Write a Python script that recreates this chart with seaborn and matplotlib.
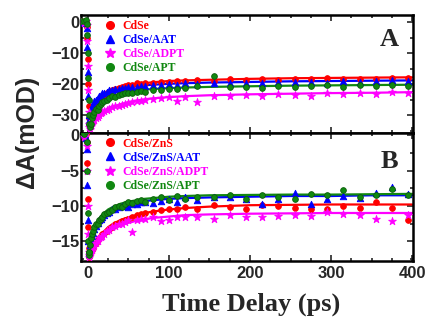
import numpy as np
import pandas as pd
import matplotlib
matplotlib.use("Agg")
import matplotlib.pyplot as plt
from matplotlib.ticker import MultipleLocator
import seaborn as sns

# ---------------- data ----------------
t_data = [-8, -5, -2, -1, -0.5, 0, 0.5, 1, 1.5, 2, 3, 4, 5, 6, 8, 10, 12, 14, 16, 18,
          20, 23, 26, 30, 34, 38, 42, 46, 50, 55, 60, 65, 70, 80, 90, 100, 110, 120,
          135, 155, 175, 195, 215, 235, 255, 275, 295, 315, 335, 355, 375, 395]

# Panel A
cdse = [0.3, -0.2, 0.2, -1.5, -5, -12, -20, -27, -31, -33, -32.5, -31, -30, -29.2, -28.5, -27, -26, -25, -24.5, -24,
        -23.5, -22.8, -22.5, -22, -21.5, -21.2, -20.8, -20.5, -20.3, -20.2, -19.8, -19.9, -19.5, -19.6, -19.2, -19.3, -18.9, -19.0,
        -18.8, -18.9, -18.5, -18.8, -18.4, -18.6, -18.2, -18.5, -18.1, -18.4, -18.2, -18.3, -18.1, -17.9]
cdse_aat = [0.2, 0.1, -0.3, -2, -8, -16, -24, -30, -32, -31.5, -30, -28.5, -27.5, -26.5, -25.5, -25, -24.5, -23.8, -23.5, -23,
            -22.8, -22.5, -22, -21.8, -21.5, -21.6, -21.2, -21.3, -21, -20.8, -20.9, -20.5, -20.6, -20.3, -20.4, -20.0, -20.2, -19.8,
            -20.0, -19.6, -19.8, -19.5, -19.7, -19.3, -19.4, -19.2, -19.5, -18.9, -19.2, -19.0, -18.7, -18.9]
cdse_adpt = [0.2, -0.3, 0.4, -1, -6, -14, -22, -29, -33, -34, -34.5, -33.5, -32.5, -32, -31.5, -31, -30.5, -30, -29.5, -29,
             -28.8, -28.3, -28, -27.5, -27.2, -27, -26.6, -26.4, -26, -25.8, -25.5, -25.3, -25, -24.8, -24.5, -24.3, -25.5, -24.2,
             -25.8, -24.0, -23.8, -23.5, -23.8, -23.2, -23.5, -23.8, -23.0, -23.3, -22.8, -23.2, -22.6, -22.9]
cdse_apt = [0.5, 0.3, 0.6, -0.5, -4, -10, -18, -25, -30, -33, -34, -33, -31, -30, -29, -28, -28.5, -27, -26.5, -25.8,
            -25.5, -25, -24.6, -24, -24.2, -23.5, -23.3, -23, -22.8, -23, -22.5, -22.2, -22.4, -21.8, -22, -21.5, -21.7, -21.2,
            -20.5, -17.4, -21, -20.8, -21.2, -20.7, -21, -20.5, -20.3, -20.8, -20.4, -20.6, -20.2, -20.5]

# Panel B
zns = [0.1, -0.2, 0.2, -1, -4, -9, -13, -16, -17, -17.2, -16.8, -16.5, -16.2, -16, -15.5, -15.2, -14.8, -14.5, -14.2, -14,
       -13.8, -13.5, -13.2, -13, -12.6, -12.4, -12.2, -12.0, -11.8, -11.6, -11.3, -11.2, -11.0, -10.9, -10.6, -10.5, -10.4, -10.2,
       -10.5, -9.9, -10.2, -10.5, -9.9, -10.0, -10.3, -10.4, -10.4, -10.0, -10.3, -9.5, -10.3, -12.0]
zns_aat = [0.2, 0.1, -0.4, -2, -7, -12, -15, -16.5, -16.8, -16.2, -15.5, -14.8, -14.2, -13.8, -13.2, -12.8, -12.4, -12.0, -11.8, -11.5,
           -11.3, -11.0, -10.8, -10.5, -10.4, -10.2, -10.0, -9.9, -10.2, -9.7, -9.8, -9.5, -9.4, -9.6, -9.3, -9.0, -9.5, -8.8,
           -9.2, -8.8, -8.8, -9.0, -9.8, -9.0, -8.2, -9.7, -9.0, -8.6, -8.9, -8.2, -7.3, -8.3]
zns_adpt = [0.1, -0.3, 0.3, -1.5, -5, -10, -14, -16.5, -17.2, -17, -16.8, -16.5, -16.2, -15.8, -15.5, -15.2, -15.0, -14.6, -14.4, -14.2,
            -14.0, -13.6, -13.4, -13.0, -12.8, -12.5, -12.6, -12.3, -12.0, -13.7, -12.0, -11.8, -11.8, -11.5, -12.2, -12.0, -11.5, -11.6,
            -11.6, -11.8, -11.3, -11.5, -11.6, -11.4, -11.3, -11.4, -10.8, -11.2, -11.3, -11.9, -12.2, -11.3]
zns_apt = [0.5, 0.2, 0.6, -1, -5, -11, -15, -16.5, -17, -16.5, -15.5, -14.5, -14, -13.5, -13, -12.6, -12.5, -12, -11.8, -11.5,
           -11.2, -11.0, -10.8, -10.6, -10.2, -10.0, -10.2, -9.8, -9.5, -9.6, -9.3, -9.2, -9.4, -9.0, -8.8, -9.1, -8.6, -9.0,
           -8.7, -8.8, -8.4, -9.0, -8.5, -8.7, -9.0, -8.3, -8.5, -7.8, -8.8, -8.5, -7.6, -8.5]

# fitted curves
t_fit = [2, 3, 4, 5, 6, 8, 10, 12, 15, 20, 25, 30, 40, 50, 60, 70, 80, 100, 120, 150, 200, 250, 300, 350, 400]
fit_cdse = [-33, -32, -31, -30.2, -29.5, -28.2, -27.2, -26.3, -25.2, -24, -23, -22.3, -21.2, -20.5, -20.0, -19.7, -19.4, -19.0, -18.8,
            -18.6, -18.3, -18.1, -18.0, -17.9, -17.8]
fit_cdse_aat = [-32, -31, -30, -29, -28.2, -27, -26, -25.2, -24.3, -23.2, -22.5, -22, -21.3, -20.9, -20.6, -20.4, -20.2, -19.9, -19.7,
                -19.5, -19.3, -19.1, -19.0, -18.9, -18.8]
fit_cdse_adpt = [-34, -33.8, -33.4, -33, -32.5, -31.8, -31.2, -30.6, -29.8, -28.8, -28, -27.4, -26.5, -25.8, -25.3, -24.9, -24.6, -24.2,
                 -23.9, -23.6, -23.3, -23.1, -22.9, -22.8, -22.6]
fit_cdse_apt = [-33.5, -33, -32, -31, -30.2, -29, -28, -27.3, -26.4, -25.3, -24.5, -23.9, -23, -22.5, -22.1, -21.8, -21.6, -21.3, -21.1,
                -20.9, -20.7, -20.5, -20.4, -20.3, -20.2]
fit_zns = [-17, -16.8, -16.5, -16.2, -16, -15.5, -15.1, -14.7, -14.2, -13.6, -13, -12.6, -12, -11.6, -11.3, -11.0, -10.8, -10.5, -10.3,
           -10.1, -9.9, -9.85, -9.8, -9.8, -9.8]
fit_zns_aat = [-16.5, -15.8, -15.2, -14.6, -14.2, -13.5, -13, -12.6, -12.1, -11.5, -11, -10.6, -10.1, -9.8, -9.5, -9.3, -9.2, -9.0,
               -8.9, -8.8, -8.7, -8.6, -8.6, -8.5, -8.5]
fit_zns_adpt = [-17, -16.9, -16.7, -16.5, -16.3, -16, -15.6, -15.3, -14.9, -14.3, -13.8, -13.4, -12.8, -12.4, -12.1, -11.9, -11.7,
                -11.5, -11.3, -11.2, -11.1, -11.05, -11.0, -11.0, -11.0]
fit_zns_apt = [-16.8, -15.8, -15, -14.3, -13.8, -13, -12.5, -12.1, -11.6, -11, -10.5, -10.2, -9.7, -9.4, -9.2, -9.0, -8.9, -8.7, -8.6,
               -8.5, -8.45, -8.4, -8.4, -8.35, -8.3]

labels_a = ["CdSe", "CdSe/AAT", "CdSe/ADPT", "CdSe/APT"]
labels_b = ["CdSe/ZnS", "CdSe/ZnS/AAT", "CdSe/ZnS/ADPT", "CdSe/ZnS/APT"]
x_ticks = [0, 100, 200, 300, 400]

# ---------------- style ----------------
sns.set_style("ticks")
plt.rcParams['font.family'] = ['Liberation Sans', 'DejaVu Sans']
plt.rcParams['font.weight'] = 'bold'

colors = ["#ff0000", "#0000ff", "#ff00ff", "#118811"]
markers = ["o", "^", "*", "o"]
sizes = [17, 22, 34, 17]

fig = plt.figure(figsize=(4.28, 3.22), dpi=100)
axA = fig.add_axes([0.189, 0.587, 0.776, 0.366])
axB = fig.add_axes([0.189, 0.189, 0.776, 0.398])

def draw(ax, series, fits, labels):
    for i, (ys, fy, lab) in enumerate(zip(series, fits, labels)):
        dfp = pd.DataFrame({"t": t_data, "v": ys})
        dff = pd.DataFrame({"t": t_fit, "v": fy})
        sns.lineplot(data=dff, x="t", y="v", ax=ax, color=colors[i], lw=1.6,
                     legend=False, zorder=2)
        sns.scatterplot(data=dfp, x="t", y="v", ax=ax, color=colors[i], marker=markers[i],
                        s=sizes[i], edgecolor=colors[i] if i != 3 else "#0b5d0b",
                        linewidth=0.6, zorder=3, legend=False)
    # legend
    handles = [plt.Line2D([], [], ls="", marker=markers[i], color=colors[i],
                          markersize=(7 if i == 2 else 5.5)) for i in range(4)]
    leg = ax.legend(handles, labels, loc="upper left", bbox_to_anchor=(0.05, 1.02),
                    frameon=False, handletextpad=0.5, labelspacing=0.18,
                    prop={"family": "Liberation Serif", "weight": "bold", "size": 8.5},
                    borderaxespad=0.2, handlelength=1.0)
    for txt, c in zip(leg.get_texts(), colors):
        txt.set_color(c)

draw(axA, [cdse, cdse_aat, cdse_adpt, cdse_apt],
     [fit_cdse, fit_cdse_aat, fit_cdse_adpt, fit_cdse_apt], labels_a)
draw(axB, [zns, zns_aat, zns_adpt, zns_apt],
     [fit_zns, fit_zns_aat, fit_zns_adpt, fit_zns_apt], labels_b)

axA.set_xlim(-8.6, 401)
axB.set_xlim(-8.6, 401)
axA.set_ylim(-35.8, 2.3)
axB.set_ylim(-17.8, 0.3)

axA.set_yticks([0, -10, -20, -30])
axB.set_yticks([0, -5, -10, -15])
axA.yaxis.set_minor_locator(MultipleLocator(5))
axB.yaxis.set_minor_locator(MultipleLocator(2.5))
for ax in (axA, axB):
    ax.set_xticks(x_ticks)
    ax.xaxis.set_minor_locator(MultipleLocator(25))
    ax.tick_params(which="both", direction="in", top=True, right=True, width=1.2)
    ax.tick_params(which="major", length=4, labelsize=12)
    ax.tick_params(which="minor", length=2.5)
    for s in ax.spines.values():
        s.set_linewidth(1.8)
        s.set_color("black")
    ax.set_xlabel("")
    ax.set_ylabel("")
    for lab in ax.get_yticklabels() + ax.get_xticklabels():
        lab.set_fontweight("bold")
axA.tick_params(labelbottom=False)
axA.yaxis.set_tick_params(pad=1)
axB.yaxis.set_tick_params(pad=1)

axA.text(0.93, 0.79, "A", transform=axA.transAxes, ha="center", va="center",
         fontsize=19, fontweight="bold", family="Liberation Serif")
axB.text(0.93, 0.78, "B", transform=axB.transAxes, ha="center", va="center",
         fontsize=19, fontweight="bold", family="Liberation Serif")

fig.text(0.5875, 0.02, "Time Delay (ps)", ha="center", va="bottom", fontsize=19,
         fontweight="bold", family="Liberation Serif")
fig.text(0.062, 0.59, "ΔA(mOD)", rotation=90, ha="center", va="center",
         fontsize=18, fontweight="bold")

fig.savefig("out.png", dpi=100)
